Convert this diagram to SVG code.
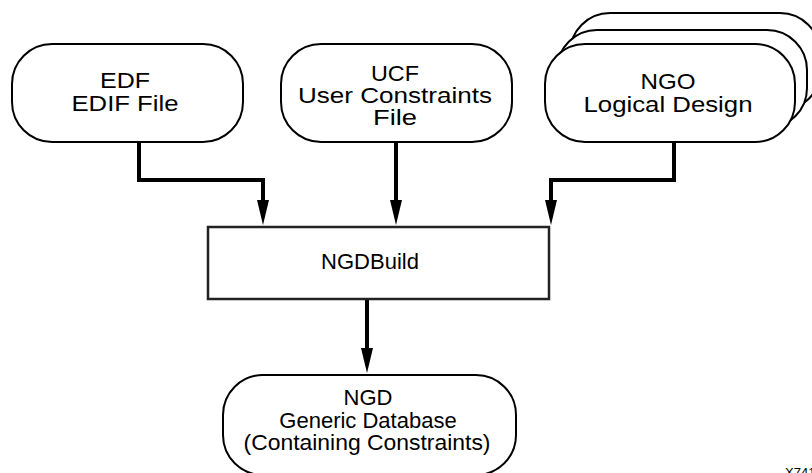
<svg xmlns="http://www.w3.org/2000/svg" width="812" height="473" viewBox="0 0 812 473">
<style>
  .node { fill: #fff; stroke: #000; stroke-width: 2; }
  .box { fill: #fff; stroke: #222; stroke-width: 2.5; }
  .lbl { font-family: "Liberation Sans", Arial, sans-serif; font-size: 22px; text-anchor: middle; fill: #000; }
  .conn { fill: none; stroke: #000; stroke-width: 4; stroke-linejoin: miter; }
  .tag { font-family: "Liberation Sans", Arial, sans-serif; font-size: 13px; fill: #000; }
</style>
<defs>
  <marker id="arr" markerUnits="userSpaceOnUse" markerWidth="25" markerHeight="12" refX="12" refY="6" orient="auto" overflow="visible">
    <path d="M0,0 L25,6 L0,12 z" fill="#000"/>
  </marker>
</defs>
<rect width="812" height="473" fill="#fff"/>

<g id="connectors">
  <path class="conn" d="M139,142 V180 H263 V212" marker-end="url(#arr)"/>
  <path class="conn" d="M396,142 V212" marker-end="url(#arr)"/>
  <path class="conn" d="M674,142 V180 H551 V212" marker-end="url(#arr)"/>
  <path class="conn" d="M367,299 V360" marker-end="url(#arr)"/>
</g>

<g id="edf">
  <rect class="node" x="12" y="44" width="231" height="98" rx="40" ry="40"/>
  <text class="lbl" x="125" y="88" textLength="50" lengthAdjust="spacingAndGlyphs">EDF</text>
  <text class="lbl" x="125" y="111" textLength="107" lengthAdjust="spacingAndGlyphs">EDIF File</text>
</g>

<g id="ucf">
  <rect class="node" x="281" y="44" width="231" height="98" rx="40" ry="40"/>
  <text class="lbl" x="395" y="81" textLength="48" lengthAdjust="spacingAndGlyphs">UCF</text>
  <text class="lbl" x="395" y="103" textLength="194" lengthAdjust="spacingAndGlyphs">User Constraints</text>
  <text class="lbl" x="395" y="125" textLength="44" lengthAdjust="spacingAndGlyphs">File</text>
</g>

<g id="ngo">
  <rect class="node" x="570" y="13" width="250" height="98" rx="40" ry="40"/>
  <rect class="node" x="557" y="30" width="250" height="98" rx="40" ry="40"/>
  <rect class="node" x="545" y="44" width="250" height="98" rx="40" ry="40"/>
  <text class="lbl" x="668" y="89" textLength="55" lengthAdjust="spacingAndGlyphs">NGO</text>
  <text class="lbl" x="668" y="112" textLength="169" lengthAdjust="spacingAndGlyphs">Logical Design</text>
</g>

<g id="ngdbuild">
  <rect class="box" x="208" y="227" width="341" height="72"/>
  <text class="lbl" x="370" y="269">NGDBuild</text>
</g>

<g id="ngd">
  <rect class="node" x="223" y="375" width="293" height="100" rx="40" ry="40"/>
  <text class="lbl" x="368" y="405">NGD</text>
  <text class="lbl" x="368" y="428">Generic Database</text>
  <text class="lbl" x="367" y="450" textLength="247" lengthAdjust="spacingAndGlyphs">(Containing Constraints)</text>
</g>

<text class="tag" x="785" y="477">X741</text>
</svg>
